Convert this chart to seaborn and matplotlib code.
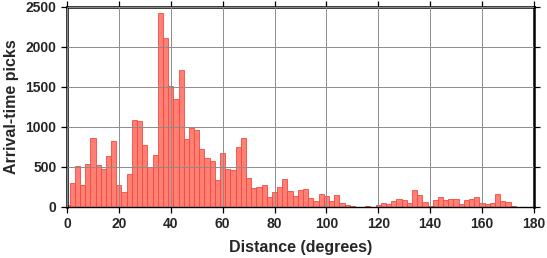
import numpy as np
import matplotlib
matplotlib.use("Agg")
import matplotlib.pyplot as plt
import seaborn as sns

# Bin centres (degrees) and arrival-time pick counts per 2-degree bin
distance_deg = list(range(0, 182, 2))
picks = [30, 300, 512, 273, 537, 860, 529, 475, 640, 822,
         277, 190, 413, 1087, 1070, 773, 500, 649, 2421, 2107,
         1517, 1347, 1715, 851, 992, 967, 719, 612, 570, 335,
         674, 475, 463, 748, 860, 360, 236, 248, 277, 128,
         182, 248, 351, 202, 136, 215, 223, 116, 78, 165,
         140, 78, 153, 54, 29, 17, 4, 4, 17, 4,
         25, 54, 41, 78, 95, 91, 54, 207, 145, 58,
         17, 91, 128, 87, 103, 95, 41, 83, 95, 128,
         54, 37, 54, 165, 78, 66, 17, 4, 2, 2, 2]
bin_edges = list(range(-1, 183, 2))
x_ticks = list(range(0, 181, 20))
y_ticks = list(range(0, 2501, 500))

sns.set_style("white")
plt.rcParams['font.family'] = ['Liberation Sans', 'DejaVu Sans']
plt.rcParams['font.weight'] = 'bold'

fig = plt.figure(figsize=(5.47, 2.58), dpi=100)
ax = fig.add_axes([0.1225, 0.1977, 0.8535, 0.7753])

sns.histplot(x=distance_deg, weights=picks, bins=bin_edges, ax=ax,
             color='#FF7F73', edgecolor='#F24A42', linewidth=0.6, alpha=1.0,
             zorder=1)

ax.set_xlim(0, 180)
ax.set_ylim(0, 2500)
ax.set_xticks(x_ticks)
ax.set_yticks(y_ticks)
ax.grid(True, color='#8c8c8c', linewidth=0.7, zorder=3)
ax.set_axisbelow(False)

for side in ['left', 'top', 'right']:
    ax.spines[side].set_linewidth(1.8)
    ax.spines[side].set_color('black')
    ax.spines[side].set_visible(True)
ax.spines['bottom'].set_linewidth(1.0)
ax.spines['bottom'].set_color('black')
ax.spines['bottom'].set_visible(True)

ax.tick_params(axis='both', which='major', direction='out', length=4.5,
               width=0.9, color='black', labelsize=10, pad=3,
               top=True, right=True, bottom=True, left=True,
               labeltop=False, labelright=False)
for lbl in ax.get_xticklabels() + ax.get_yticklabels():
    lbl.set_fontweight('bold')

ax.set_xlabel('Distance (degrees)', fontsize=11.5, fontweight='bold', labelpad=6.5)
ax.set_ylabel('Arrival-time picks', fontsize=11.5, fontweight='bold', labelpad=4.5)

fig.savefig('out.png', dpi=100)
